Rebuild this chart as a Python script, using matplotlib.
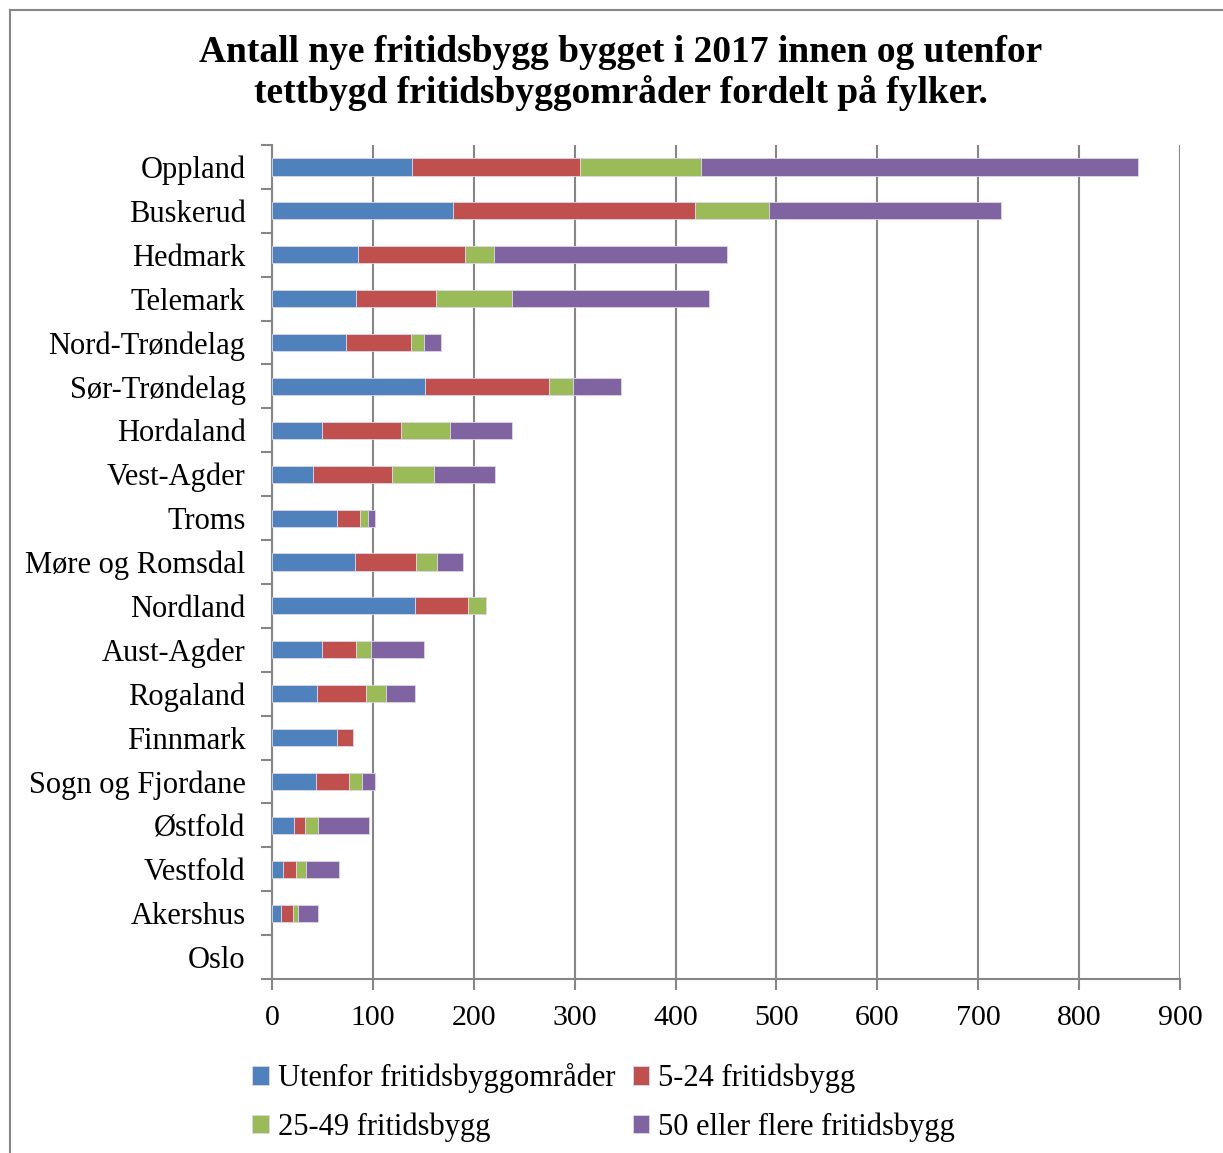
import matplotlib
matplotlib.use("Agg")
import matplotlib.pyplot as plt
from matplotlib.lines import Line2D
import numpy as np

counties = ["Oppland", "Buskerud", "Hedmark", "Telemark", "Nord-Trøndelag",
            "Sør-Trøndelag", "Hordaland", "Vest-Agder", "Troms", "Møre og Romsdal",
            "Nordland", "Aust-Agder", "Rogaland", "Finnmark", "Sogn og Fjordane",
            "Østfold", "Vestfold", "Akershus", "Oslo"]

utenfor = [139, 179, 85, 83, 73, 152, 50, 41, 64, 82, 142, 50, 45, 64, 44, 22, 11, 9, 0]
small_5_24 = [166, 240, 106, 80, 65, 123, 78, 78, 23, 61, 52, 33, 48, 16, 32, 11, 13, 12, 0]
mid_25_49 = [120, 74, 29, 75, 13, 23, 48, 42, 8, 21, 18, 15, 20, 0, 13, 13, 10, 5, 0]
large_50 = [433, 230, 231, 195, 17, 48, 62, 60, 7, 25, 0, 53, 29, 0, 13, 50, 32, 20, 0]

series_names = ["Utenfor fritidsbyggområder", "5-24 fritidsbygg",
                "25-49 fritidsbygg", "50 eller flere fritidsbygg"]
series_colors = ["#4F81BD", "#C0504D", "#9BBB59", "#8064A2"]
x_ticks = [0, 100, 200, 300, 400, 500, 600, 700, 800, 900]

title = ("Antall nye fritidsbygg bygget i 2017 innen og utenfor\n"
         "tettbygd fritidsbyggområder fordelt på fylker.")

W, H = 1223, 1153
fig = plt.figure(figsize=(W / 100, H / 100), dpi=100)
plt.rcParams["font.family"] = ["Liberation Serif", "DejaVu Serif"]

# plot area in pixel coordinates
left, right, top, bottom = 272, 1180, 145, 979
ax = fig.add_axes([left / W, 1 - bottom / H, (right - left) / W, (bottom - top) / H])

grid_col = "#868686"
y = np.arange(len(counties))
lefts = np.zeros(len(counties))
handles = []
for vals, name, col in zip([utenfor, small_5_24, mid_25_49, large_50],
                           series_names, series_colors):
    v = np.array(vals, dtype=float)
    lw = [0.6 if val > 0 else 0 for val in v]
    b = ax.barh(y, v, left=lefts, height=0.39, color=col, label=name,
                edgecolor="#ddd6ea", linewidth=lw, zorder=3)
    handles.append(b)
    lefts += v

ax.set_ylim(len(counties) - 0.5, -0.5)
ax.set_xlim(0, 900)
ax.set_xticks(x_ticks)
ax.set_xticklabels([str(t) for t in x_ticks], fontsize=21.5)
ax.set_yticks(y)
ax.set_yticklabels(counties, fontsize=22)
ax.tick_params(axis="y", which="major", length=0, pad=19)
ax.set_yticks(np.arange(-0.5, len(counties), 1.0), minor=True)
ax.tick_params(axis="y", which="minor", length=8, width=1.5, color=grid_col, direction="out")
ax.tick_params(axis="x", length=8, width=1.5, color=grid_col, direction="out", pad=11)

ax.grid(axis="x", color=grid_col, linewidth=1.5, zorder=0)
for s in ["top", "right"]:
    ax.spines[s].set_visible(False)
for s in ["left", "bottom"]:
    ax.spines[s].set_color(grid_col)
    ax.spines[s].set_linewidth(1.5)

fig.text(621 / W, 1 - 73 / H, title, ha="center", va="center",
         fontsize=27, fontweight="bold", linespacing=1.22)

# legend in two columns below the axis, filled row by row
order = [0, 2, 1, 3]
fig.legend(handles=[handles[i] for i in order], labels=[series_names[i] for i in order],
           ncol=2, frameon=False,
           loc="upper left", bbox_to_anchor=(240 / W, 1 - 1051 / H),
           fontsize=22, handlelength=0.55, handleheight=0.55, handletextpad=0.3,
           columnspacing=0.55, labelspacing=0.62, borderaxespad=0)

# outer frame of the chart
fig.add_artist(Line2D([10 / W, 1], [1 - 10 / H, 1 - 10 / H], color=grid_col, lw=1.5,
                      transform=fig.transFigure))
fig.add_artist(Line2D([10 / W, 10 / W], [0, 1 - 10 / H], color=grid_col, lw=1.5,
                      transform=fig.transFigure))

fig.savefig("out.png", dpi=100)
